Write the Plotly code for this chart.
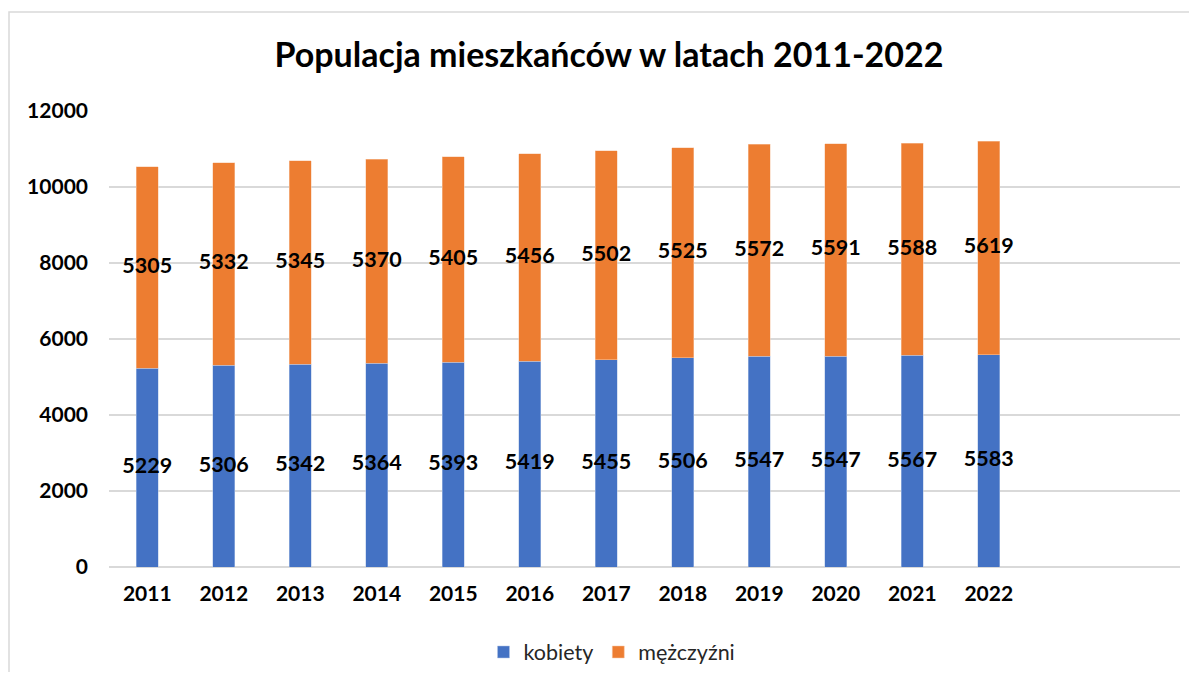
import plotly.graph_objects as go

years = ["2011", "2012", "2013", "2014", "2015", "2016", "2017", "2018", "2019", "2020", "2021", "2022"]
kobiety = [5229, 5306, 5342, 5364, 5393, 5419, 5455, 5506, 5547, 5547, 5567, 5583]
mezczyzni = [5305, 5332, 5345, 5370, 5405, 5456, 5502, 5525, 5572, 5591, 5588, 5619]
y_ticks = [0, 2000, 4000, 6000, 8000, 10000, 12000]
y_tick_labels = ["0", "2000", "4000", "6000", "8000", "10000", "12000"]

BLUE = "#4472C4"
ORANGE = "#ED7D31"
FONT = "Lato"

W, H = 1181, 664
ML, MR, MT, MB = 101, 9, 103, 105
PW, PH = W - ML - MR, H - MT - MB

fig = go.Figure()
fig.add_trace(go.Bar(x=years, y=kobiety, name="kobiety", marker=dict(color=BLUE, line=dict(width=0.5, color="#B4C7E7")), width=0.29))
fig.add_trace(go.Bar(x=years, y=mezczyzni, name="mężczyźni", marker=dict(color=ORANGE, line=dict(width=0.5, color="#F8CBAD")), width=0.29))

mid_k = [k / 2 for k in kobiety]
mid_m = [k + m / 2 for k, m in zip(kobiety, mezczyzni)]
fig.add_trace(go.Scatter(x=years, y=mid_k, mode="text", text=[str(v) for v in kobiety],
                         textfont=dict(family=FONT, size=21.5, color="black", weight="bold"),
                         showlegend=False, hoverinfo="skip"))
fig.add_trace(go.Scatter(x=years, y=mid_m, mode="text", text=[str(v) for v in mezczyzni],
                         textfont=dict(family=FONT, size=21.5, color="black", weight="bold"),
                         showlegend=False, hoverinfo="skip"))

fig.update_layout(
    barmode="stack",
    width=W, height=H,
    margin=dict(l=ML, r=MR, t=MT, b=MB, autoexpand=False),
    paper_bgcolor="white", plot_bgcolor="white",
    title=dict(text="<b>Populacja mieszkańców w latach 2011-2022</b>", x=601 / W, xanchor="center",
               y=1 - 47 / H, yanchor="middle",
               font=dict(family=FONT, size=34, color="black")),
    legend=dict(orientation="h", x=(604 - ML) / PW, xanchor="center", y=(MT + PH - 644) / PH, yanchor="middle",
                font=dict(family=FONT, size=21.5, color="#262626"), traceorder="normal",
                itemwidth=30),
    showlegend=True,
)
fig.update_xaxes(type="category", range=[-0.5, 13.5], showgrid=False, showline=False, ticks="",
                 automargin=False,
                 tickfont=dict(family=FONT, size=21, color="black", weight="bold"), ticklabelstandoff=12)
fig.update_yaxes(range=[0, 12000], tickvals=y_ticks, ticktext=y_tick_labels, showgrid=True,
                 gridcolor="#D9D9D9", gridwidth=1.5, automargin=False,
                 zeroline=True, zerolinecolor="#D9D9D9", zerolinewidth=1.5, showline=False, ticks="",
                 tickfont=dict(family=FONT, size=21, color="black", weight="bold"), ticklabelstandoff=20)

fig.add_shape(type="rect", xref="paper", yref="paper",
              x0=(1 - ML) / PW, x1=(W + 5 - ML) / PW,
              y0=(MT + PH - (H + 20)) / PH, y1=(MT + PH - 4) / PH,
              line=dict(color="#D9D9D9", width=1.5), fillcolor="rgba(0,0,0,0)", layer="below")

fig.write_html("out.html")
